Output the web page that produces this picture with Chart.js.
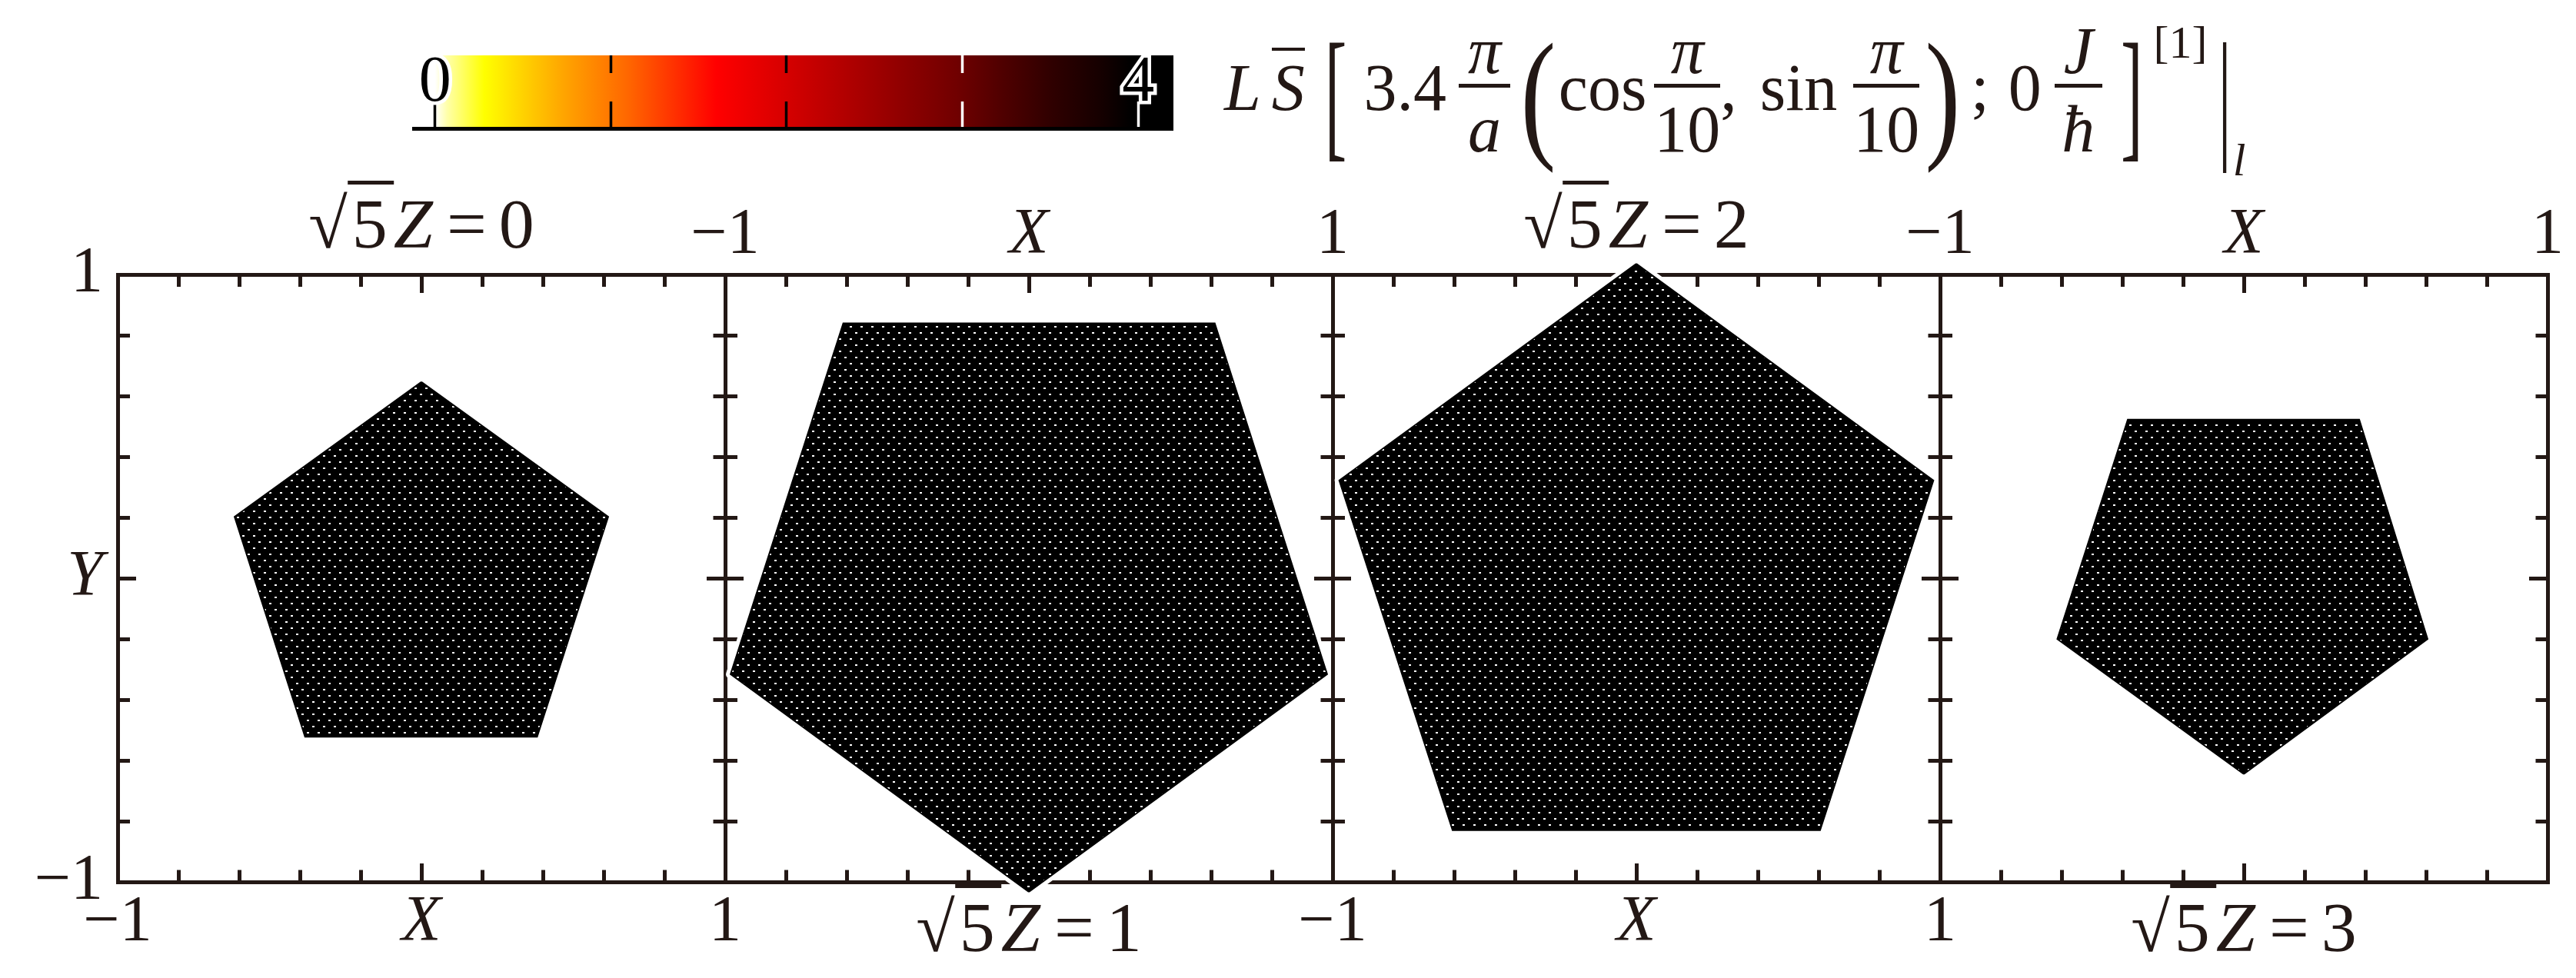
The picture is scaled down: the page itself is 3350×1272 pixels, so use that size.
<!DOCTYPE html>
<html>
<head>
<meta charset="utf-8">
<title>LS slices</title>
<script src="https://cdn.jsdelivr.net/npm/chart.js@4.4.1/dist/chart.umd.min.js"></script>
<style>
  html, body { margin: 0; padding: 0; background: #fff; }
  #fig { position: relative; width: 3350px; height: 1272px; overflow: hidden; background: #fff; }
  #fig canvas { position: absolute; top: 0; }
  .serif { font-family: 'Liberation Serif', 'Times New Roman', serif; color: #231815; line-height: 1; white-space: nowrap; }
  .zt { position: absolute; font-size: 92px; transform: translateX(-50%); }
  .zt .ov { border-top: 5px solid #231815; padding: 0 8px 0 6px; }
  .zt .eq { margin: 0 16px 0 18px; }
  #formula { position: absolute; left: 1592px; top: 71px; font-size: 86px; }
  #formula .frac { display: inline-flex; flex-direction: column; align-items: center; position: relative; top: -48px; }
  #formula .frac .num { padding: 0 12px; }
  #formula .frac .den { align-self: stretch; text-align: center; border-top: 5px solid #231815; padding-top: 11px; }
  #formula .big { display: inline-block; transform-origin: 50% 50.5px; transform: translateY(17.5px) scaleY(2.16); }
  #formula .paren { transform: translateY(17.5px) scale(1.6, 2.16); }
  #formula .ovs { border-top: 4px solid #231815; }
  #formula .sup { font-size: 60px; position: relative; top: -68px; }
  #formula .sub { font-size: 60px; position: relative; top: 85px; }
</style>
</head>
<body>
<div id="fig">
  <canvas id="cbar" width="990" height="260" style="left:536px"></canvas>
  <canvas id="p0" width="980" height="1272"></canvas>
  <canvas id="p1" width="980" height="1272"></canvas>
  <canvas id="p2" width="980" height="1272"></canvas>
  <canvas id="p3" width="980" height="1272"></canvas>
  <div id="formula" class="serif"><i>L</i><i class="ovs" style="margin-left:14px">S</i><span class="big" style="margin-left:26px">[</span><span style="margin-left:22px">3.4</span><span class="frac" style="margin-left:16px"><i class="num">π</i><i class="den">a</i></span><span class="big paren" style="margin-left:22px">(</span><span style="margin-left:12px">cos</span><span class="frac" style="margin-left:10px"><i class="num">π</i><span class="den">10</span></span>,<span style="margin-left:30px">sin</span><span class="frac" style="margin-left:21px"><i class="num">π</i><span class="den">10</span></span><span class="big paren" style="margin-left:16px">)</span><span style="margin-left:22px">;</span><span style="margin-left:25px">0</span><span class="frac" style="margin-left:17px"><i class="num">J</i><i class="den">ħ</i></span><span class="big" style="margin-left:24px">]</span><span class="sup" style="margin-left:14px">[1]</span><span class="big" style="margin-left:14px">|</span><i class="sub" style="margin-left:2px">l</i></div>
</div>
<script>
const INK = '#231815';
const SERIF = "'Liberation Serif', 'Times New Roman', serif";
Chart.defaults.font.family = SERIF;

// sqrt(5) Z of each slice
const sliceZ = [0, 1, 2, 3];
// pentagon corners (X, Y) of each slice
const pentX = [
  [0.000, 0.615, 0.381, -0.383, -0.615],
  [0.000, 0.982, 0.612, -0.611, -0.982],
  [0.000, 0.978, 0.605, -0.605, -0.978],
  [0.000, 0.605, 0.380, -0.382, -0.614]
];
const pentY = [
  [0.646, 0.202, -0.522, -0.522, 0.202],
  [-1.033, -0.316, 0.839, 0.839, -0.316],
  [1.035, 0.322, -0.830, -0.830, 0.322],
  [-0.645, -0.200, 0.522, 0.522, -0.200]
];
// labelled values on the frame axes
const edgeTicks = [-1, 1];
// colour bar
const cbTicks = [0, 1, 2, 3, 4];
const cbLabelled = [0, 4];
const cbRange = [-0.13, 4.2];

// colour map (value -> colour)
const hotStops = [
  [0.00, '#ffffff'], [0.07, '#ffffa8'], [0.28, '#ffff00'], [0.50, '#ffd200'],
  [0.73, '#ffa500'], [1.10, '#ff6600'], [1.35, '#ff3300'], [1.60, '#ff0000'],
  [1.90, '#e00000'], [2.35, '#b00000'], [2.65, '#900000'], [2.97, '#700000'],
  [3.22, '#500000'], [3.50, '#300000'], [3.80, '#140000'], [3.96, '#000000']
];

// layout of the four frames
const panelLeft = [153, 943, 1733, 2523];
const PW = 790;
const showLabels = [
  {x: true, x2: false, y: true},
  {x: false, x2: true, y: false},
  {x: true, x2: false, y: false},
  {x: false, x2: true, y: false}
];
const titleOnTop = [true, false, true, false];

const near = (a, b) => Math.abs(a - b) < 1e-9;

function edgeLabel(v, name) {
  if (near(v, 0)) return name;
  const hit = edgeTicks.find(t => near(t, v));
  if (hit === undefined) return '';
  return hit < 0 ? '\u2212' + Math.abs(hit) : String(hit);
}

function fixSize(size) {
  return s => {
    if (s.isHorizontal()) s.height = size; else s.width = size;
    s.paddingLeft = s.paddingRight = s.paddingTop = s.paddingBottom = 0;
  };
}

function frameAxis(axis, position, size, labels) {
  const fromOuter = position === 'bottom' || position === 'right';
  const pad = {bottom: 28, top: 24, left: 43, right: 20}[position];
  return {
    type: 'linear', axis, position, min: -1, max: 1,
    afterFit: fixSize(size),
    border: {display: true, width: 5, color: INK},
    grid: {
      drawOnChartArea: false, tickLength: -24, tickWidth: 5, tickColor: INK,
      tickBorderDash: c => (c.tick && near(c.tick.value, 0)) ? [] : (fromOuter ? [18.5, 100] : [0, 8, 100, 0])
    },
    ticks: {
      stepSize: 0.2, autoSkip: false, maxRotation: 0, minRotation: 0, padding: pad, color: INK,
      font: c => ({family: SERIF, size: 84, style: (c.tick && near(c.tick.value, 0)) ? 'italic' : 'normal'}),
      callback: v => labels ? edgeLabel(v, axis === 'x' ? 'X' : 'Y') : ''
    }
  };
}

// black fill with the faint white mesh nodes
function meshPattern(ctx) {
  const c = document.createElement('canvas');
  c.width = 14; c.height = 16;
  const g = c.getContext('2d');
  g.fillStyle = '#000';
  g.fillRect(0, 0, 14, 16);
  g.fillStyle = '#fff';
  g.fillRect(0, 0, 3, 2);
  g.fillRect(7, 8, 3, 2);
  return ctx.createPattern(c, 'repeat');
}

const meshFill = {
  id: 'meshFill',
  beforeDatasetDraw(chart, args) {
    const line = args.meta.dataset;
    if (!line || !line.points.length) return;
    const ctx = chart.ctx;
    ctx.save();
    ctx.beginPath();
    line.path(ctx);
    ctx.closePath();
    ctx.lineJoin = 'round';
    ctx.lineWidth = 12;
    ctx.strokeStyle = '#fff';
    ctx.stroke();
    ctx.fillStyle = meshPattern(ctx);
    ctx.fill();
    ctx.restore();
  }
};

sliceZ.forEach((z, i) => {
  const pts = pentX[i].map((x, k) => ({x, y: pentY[i][k]}));
  pts.push(pts[0]);
  const canvas = document.getElementById('p' + i);
  canvas.style.left = (panelLeft[i] - 153) + 'px';
  new Chart(canvas, {
    type: 'line',
    data: {
      datasets: [{
        data: pts,
        borderColor: '#000',
        borderWidth: 2,
        pointRadius: 0,
        fill: false,
        tension: 0,
        clip: false
      }]
    },
    options: {
      responsive: false,
      animation: false,
      events: [],
      layout: {padding: 0},
      plugins: {legend: {display: false}, tooltip: {enabled: false}},
      scales: {
        x: frameAxis('x', 'bottom', 125, showLabels[i].x),
        x2: frameAxis('x', 'top', 357, showLabels[i].x2),
        y: frameAxis('y', 'left', 153, showLabels[i].y),
        y2: frameAxis('y', 'right', 37, false)
      }
    },
    plugins: [meshFill]
  });
});

// slice titles
const fig = document.getElementById('fig');
sliceZ.forEach((z, i) => {
  const t = document.createElement('div');
  t.className = 'zt serif';
  t.innerHTML = '<span>\u221A</span><span class="ov">5</span><i>Z</i><span class="eq">=</span>' + z;
  t.style.left = (panelLeft[i] + PW / 2) + 'px';
  t.style.top = (titleOnTop[i] ? 245 : 1160) + 'px';
  fig.appendChild(t);
});

// colour bar
function hotGradient(c) {
  const chart = c.chart;
  const xs = chart.scales.x;
  if (!chart.chartArea || !xs) return '#000';
  const x0 = xs.getPixelForValue(0);
  const x1 = xs.getPixelForValue(4);
  const g = chart.ctx.createLinearGradient(x0, 0, x1, 0);
  hotStops.forEach(([v, col]) => g.addColorStop(v / 4, col));
  return g;
}

new Chart(document.getElementById('cbar'), {
  type: 'bar',
  data: {
    labels: [''],
    datasets: [{
      data: [cbRange],
      backgroundColor: hotGradient,
      borderWidth: 0,
      barPercentage: 1,
      categoryPercentage: 1
    }]
  },
  options: {
    indexAxis: 'y',
    responsive: false,
    animation: false,
    events: [],
    layout: {padding: 0},
    plugins: {legend: {display: false}, tooltip: {enabled: false}},
    scales: {
      x: {
        type: 'linear', position: 'bottom', min: cbRange[0], max: cbRange[1],
        afterBuildTicks: s => { s.ticks = cbTicks.map(v => ({value: v})); },
        afterFit: fixSize(93),
        border: {display: true, width: 5, color: '#000', z: 1},
        grid: {
          z: 1, drawOnChartArea: false, tickLength: -35, tickWidth: 3.5,
          tickColor: c => (c.tick && c.tick.value >= 3) ? '#fff' : '#000'
        },
        ticks: {
          z: 2, autoSkip: false, maxRotation: 0, mirror: true, padding: 8, color: '#000',
          textStrokeColor: '#fff', textStrokeWidth: 9,
          font: {family: SERIF, size: 84},
          callback: v => cbLabelled.includes(v) ? String(v) : ''
        }
      },
      x2: {
        type: 'linear', axis: 'x', position: 'top', min: cbRange[0], max: cbRange[1],
        afterBuildTicks: s => { s.ticks = cbTicks.map(v => ({value: v})); },
        afterFit: fixSize(72),
        border: {display: false},
        grid: {
          z: 1, drawOnChartArea: false, tickLength: -23, tickWidth: 3.5,
          tickColor: c => {
            if (!c.tick) return '#000';
            if (cbLabelled.includes(c.tick.value)) return 'rgba(0,0,0,0)';
            return c.tick.value >= 3 ? '#fff' : '#000';
          }
        },
        ticks: {callback: () => ''}
      },
      y: {display: false}
    }
  }
});
</script>
</body>
</html>
